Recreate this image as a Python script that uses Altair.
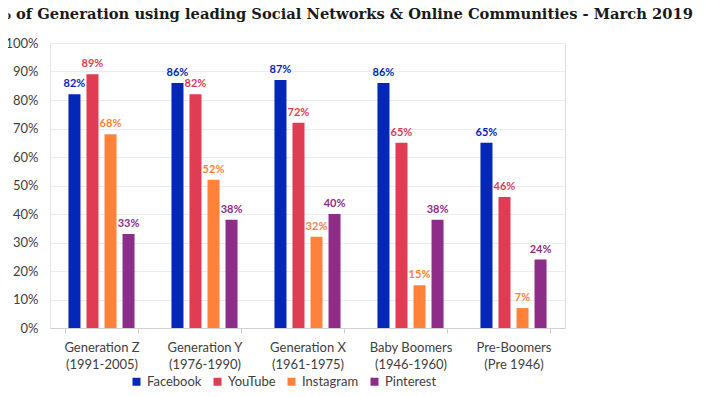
import altair as alt
import pandas as pd

categories = ["Generation Z\n(1991-2005)", "Generation Y\n(1976-1990)", "Generation X\n(1961-1975)",
              "Baby Boomers\n(1946-1960)", "Pre-Boomers\n(Pre 1946)"]
series = ["Facebook", "YouTube", "Instagram", "Pinterest"]
facebook = [82, 86, 87, 86, 65]
youtube = [89, 82, 72, 65, 46]
instagram = [68, 52, 32, 15, 7]
pinterest = [33, 38, 40, 38, 24]
colors = ["#0328B8", "#E03C53", "#FF823A", "#8E2D88"]

rows = []
for s, vals in zip(series, [facebook, youtube, instagram, pinterest]):
    for c, v in zip(categories, vals):
        rows.append({"cat": c, "series": s, "value": v / 100})
df = pd.DataFrame(rows)

font = "Lato"
xenc = alt.X("cat:N", sort=categories,
             scale=alt.Scale(paddingInner=0.3, paddingOuter=0.15),
             axis=alt.Axis(title=None, labelAngle=0, labelExpr="split(datum.label, '\\n')",
                           labelFont=font, labelFontSize=13, labelColor="#404040",
                           labelPadding=8, labelLineHeight=17, tickBand="extent",
                           tickColor="#d0d0d0", tickSize=5, domainColor="#d0d0d0"))
xoff = alt.XOffset("series:N", sort=series, scale=alt.Scale(paddingInner=0.333, paddingOuter=0.167))
yenc = alt.Y("value:Q", scale=alt.Scale(domain=[0, 1]),
             axis=alt.Axis(title=None, format=".0%", values=[i / 10 for i in range(11)],
                           labelFont=font, labelFontSize=13, labelColor="#404040", labelPadding=12,
                           gridColor="#ececec", domainColor="#e4e4e4", ticks=False))
color = alt.Color("series:N", sort=series, scale=alt.Scale(domain=series, range=colors),
                  legend=alt.Legend(title=None, orient="none", direction="horizontal",
                                    legendX=80, legendY=332, symbolType="square", symbolSize=64,
                                    symbolStrokeWidth=0, labelFont=font, labelFontSize=13,
                                    labelColor="#404040", columnPadding=9, labelOffset=4))

base = alt.Chart(df).encode(x=xenc, xOffset=xoff, y=yenc)
bars = base.mark_bar().encode(color=color)
labels = base.mark_text(dy=-10, fontSize=11, fontWeight="bold", font=font).encode(
    text=alt.Text("value:Q", format=".0%"),
    color=alt.Color("series:N", sort=series, scale=alt.Scale(domain=series, range=colors), legend=None))

chart = alt.layer(bars, labels).properties(
    width=515, height=285,
    autosize=alt.AutoSizeParams(type="none"),
    padding={"left": 42, "top": 35, "right": 132, "bottom": 61},
    title=alt.TitleParams("% of Generation using leading Social Networks & Online Communities - March 2019",
                          anchor="start", frame="group", dx=-53, offset=15,
                          font="DejaVu Serif", fontSize=14.7, fontWeight="bold", color="#1a1a1a"),
).configure_view(stroke=None).configure(background="white")

chart.save("out.html", embed_options={"renderer": "svg", "actions": False})
